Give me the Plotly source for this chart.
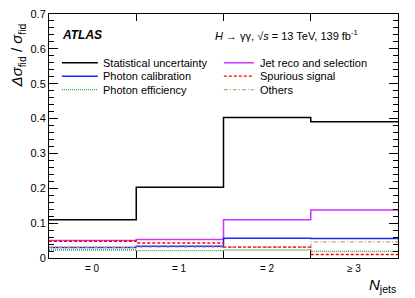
import plotly.graph_objects as go

categories = ["= 0", "= 1", "= 2", "≥ 3"]
bin_centers = [0.5, 1.5, 2.5, 3.5]
bin_edges = [0, 1, 2, 3, 4]
y_ticks = [0, 0.1, 0.2, 0.3, 0.4, 0.5, 0.6, 0.7]
y_tick_labels = ["0", "0.1", "0.2", "0.3", "0.4", "0.5", "0.6", "0.7"]
stat_unc = [0.110, 0.203, 0.403, 0.391]
jet_reco = [0.050, 0.053, 0.110, 0.138]
photon_calib = [0.030, 0.034, 0.057, 0.056]
spurious = [0.048, 0.043, 0.031, 0.010]
photon_eff = [0.023, 0.021, 0.023, 0.019]
others = [0.031, 0.031, 0.031, 0.046]

FONT = "Liberation Sans, Arial, Helvetica, sans-serif"

# name, values, colour, dash, width, legend column, legend row
series = [
    ("Statistical uncertainty", stat_unc, "black", "solid", 1.5, 0, 0),
    ("Jet reco and selection", jet_reco, "#cc33ff", "solid", 1.5, 1, 0),
    ("Photon calibration", photon_calib, "#2222ff", "solid", 1.5, 0, 1),
    ("Others", others, "#c8a078", "4px,2px,1px,2px", 1.3, 1, 2),
    ("Spurious signal", spurious, "#ff0000", "3px,2px", 1.3, 1, 1),
    ("Photon efficiency", photon_eff, "#339933", "1px,1px", 1.3, 0, 2),
]

fig = go.Figure()
for name, vals, color, dash, w, col, row in series:
    fig.add_trace(go.Scatter(
        x=bin_edges, y=list(vals) + [vals[-1]], mode="lines", line_shape="hv",
        name=name, line=dict(color=color, dash=dash, width=w), showlegend=False,
    ))

# manual two-column legend (paper coordinates)
leg_rows = [0.80, 0.745, 0.69]
leg_cols = [(0.037, 0.140, 0.149), (0.501, 0.587, 0.599)]
for name, vals, color, dash, w, col, row in series:
    x0, x1, xt = leg_cols[col]
    yy = leg_rows[row]
    fig.add_shape(type="line", xref="paper", yref="paper", x0=x0, x1=x1, y0=yy, y1=yy,
                  line=dict(color=color, dash=dash, width=w))
    fig.add_annotation(text=name, xref="paper", yref="paper", x=xt, y=yy,
                       xanchor="left", yanchor="middle", showarrow=False,
                       font=dict(family=FONT, size=11))

# category labels under the bins
for xc, lab in zip(bin_centers, categories):
    fig.add_annotation(text=lab, xref="x", yref="paper", x=xc, y=-0.042,
                       xanchor="center", yanchor="middle", showarrow=False,
                       font=dict(family=FONT, size=10))

fig.update_layout(
    width=407, height=290,
    margin=dict(l=41, r=17, t=6, b=40, autoexpand=False),
    paper_bgcolor="white", plot_bgcolor="white",
    font=dict(family=FONT, size=11, color="black"),
    showlegend=False,
    xaxis=dict(
        range=[0, 4], tickmode="array", tickvals=[1, 2, 3], showticklabels=False,
        ticks="inside", ticklen=7, tickcolor="black",
        showgrid=False, zeroline=False,
        showline=True, linecolor="black", linewidth=1, mirror="ticks",
        automargin=False,
    ),
    yaxis=dict(
        range=[0, 0.70001], tickmode="array", tickvals=y_ticks, ticktext=y_tick_labels,
        ticks="inside", ticklen=9, tickcolor="black", ticklabeloverflow="allow",
        showgrid=False, zeroline=False, automargin=False,
        showline=True, linecolor="black", linewidth=1, mirror="ticks",
        tickfont=dict(size=11),
        minor=dict(dtick=0.02, ticks="inside", ticklen=5, tickcolor="black",
                   showgrid=False),
    ),
)

fig.add_annotation(
    text="<i>Δσ</i><sub>fid</sub> / <i>σ</i><sub>fid</sub>",
    xref="paper", yref="paper", x=-0.089, y=0.83,
    xanchor="center", yanchor="middle", textangle=-90, showarrow=False,
    font=dict(family=FONT, size=15),
)
fig.add_annotation(
    text="<b><i>ATLAS</i></b>", xref="paper", yref="paper", x=0.032, y=0.912,
    xanchor="left", yanchor="middle", showarrow=False, font=dict(family=FONT, size=12),
)
fig.add_annotation(
    text="<i>H</i> → γγ, √<i>s</i> = 13 TeV, 139 fb<sup>-1</sup>",
    xref="paper", yref="paper", x=0.89, y=0.912,
    xanchor="right", yanchor="middle", showarrow=False, font=dict(family=FONT, size=11),
)
fig.add_annotation(
    text="<i>N</i><sub>jets</sub>", xref="paper", yref="paper", x=1.0, y=-0.065,
    xanchor="right", yanchor="top", showarrow=False, font=dict(family=FONT, size=15),
)

fig.write_html("out.html")
